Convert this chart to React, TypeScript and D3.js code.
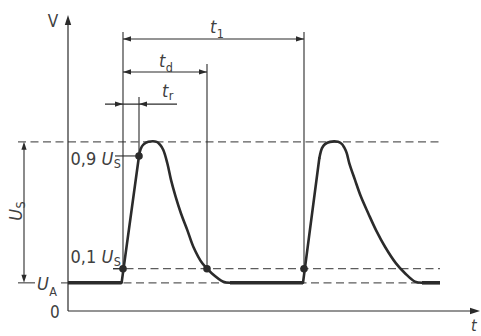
import React from 'react';
import * as d3 from 'd3';

// levels in volts (arbitrary units): U_A offset and pulse height U_S
const levelUA = 1;
const levelUS = 5;

// first pulse: straight rise, then rounded top and falling tail, [time, voltage]
const pulse1Rise: [number, number][] = [[13.4, 1], [17.75, 5.5]];
const pulse1Tail: [number, number][] = [
  [17.75, 5.5], [18.17, 5.75], [18.83, 5.9], [20.08, 6], [22.17, 6], [23, 5.9],
  [23.83, 5.71], [24.83, 5.24], [25.75, 4.65], [26.92, 4.05], [28.25, 3.46],
  [29.83, 2.87], [31.33, 2.28], [33.58, 1.69], [35.92, 1.34], [38.83, 1.04], [40.5, 1],
];

// second pulse
const pulse2Rise: [number, number][] = [[58.75, 1], [62.83, 5.42]];
const pulse2Tail: [number, number][] = [
  [62.83, 5.42], [63.5, 5.78], [64.25, 5.92], [65.5, 6], [67.5, 6], [68.5, 5.92],
  [69.05, 5.8], [69.68, 5.6], [70.33, 5.24], [71.75, 4.65], [73.25, 4.05], [75.08, 3.46],
  [77, 2.87], [79.25, 2.28], [82, 1.69], [84.25, 1.34], [86.75, 1.04], [88.5, 1],
];

// flat U_A stretches between pulses
const baseRuns: [number, number][] = [[0, 13.4], [40.5, 58.75], [88.5, 93]];

// marked points: 10% rise, 90% rise, 10% fall, next pulse 10% rise
const markTimes = [13.75, 17.75, 34.75, 59];
const markLevels = [1.5, 5.5, 1.5, 1.5];

const FONT = '"Liberation Sans Narrow", "Arial Narrow", "DejaVu Sans Condensed", "Liberation Sans", Arial, sans-serif';
const INK = '#2b2b2b';
const TEXT = '#404040';
const DASHC = '#5c5c5c';

const App = () => {
  const ref = React.useRef<SVGSVGElement>(null);

  React.useEffect(() => {
    const svg = d3.select(ref.current);
    svg.selectAll('*').remove();

    const x = d3.scaleLinear().domain([0, 103]).range([68, 480]);
    const y = d3.scaleLinear().domain([0, 10.5]).range([311, 15]);

    const top = levelUA + levelUS;
    const lvl10 = levelUA + 0.1 * levelUS;

    // filled arrowhead with tip at (tx, ty), pointing along angle (radians)
    const arrow = (tx: number, ty: number, ang: number, len = 8, hw = 2.8) => {
      const bx = tx - len * Math.cos(ang);
      const by = ty - len * Math.sin(ang);
      const px = -Math.sin(ang) * hw;
      const py = Math.cos(ang) * hw;
      svg.append('path')
        .attr('d', `M${tx},${ty}L${bx + px},${by + py}L${bx - px},${by - py}Z`)
        .attr('fill', INK);
    };

    const line = (x1: number, y1: number, x2: number, y2: number, w = 1.1, dash?: string, color = INK) => {
      const l = svg.append('line')
        .attr('x1', x1).attr('y1', y1).attr('x2', x2).attr('y2', y2)
        .attr('stroke', color).attr('stroke-width', w);
      if (dash) l.attr('stroke-dasharray', dash);
      return l;
    };

    type Part = { text: string; italic?: boolean; sub?: number };
    const label = (lx: number, ly: number, parts: Part[], size = 18, anchor = 'start', transform?: string) => {
      const t = svg.append('text')
        .attr('x', lx).attr('y', ly)
        .attr('text-anchor', anchor)
        .style('font-family', FONT)
        .style('font-size', `${size}px`)
        .style('fill', TEXT);
      if (transform) t.attr('transform', transform);
      parts.forEach(p => {
        const s = t.append('tspan').text(p.text);
        if (p.italic) s.style('font-style', 'italic');
        if (p.sub) s.attr('dy', p.sub).attr('dx', 0.5).style('font-size', '12.5px');
      });
    };

    // dashed reference levels
    const dash = '8,4.5';
    line(x(-12.5), y(top), x(93), y(top), 1.3, dash, DASHC);
    line(x(-12.5), y(levelUA), x(-8.25), y(levelUA), 1.3, undefined, DASHC);
    line(x(-1.75), y(levelUA), x(93), y(levelUA), 1.3, dash, DASHC);
    line(x(11.25), y(lvl10), x(93), y(lvl10), 1.3, dash, DASHC);
    line(x(11.25), y(lvl10), x(markTimes[0]), y(lvl10), 1.1);

    // axes
    line(x(0), y(0), x(103) - 6, y(0), 1.2);
    arrow(x(103), y(0), 0, 10, 3.2);
    line(x(0), y(0), x(0), y(10.5) + 6, 1.2);
    arrow(x(0), y(10.5), -Math.PI / 2, 10, 3.2);

    // extension lines
    line(x(markTimes[0]), y(9.9), x(markTimes[0]), y(lvl10));
    line(x(markTimes[3]), y(9.9), x(markTimes[3]), y(lvl10));
    line(x(markTimes[2]), y(8.76), x(markTimes[2]), y(lvl10));
    line(x(markTimes[1]), y(7.59), x(markTimes[1]), y(5.5));
    line(x(11.75), y(5.5), x(markTimes[1]), y(5.5));

    // t1 dimension
    line(x(markTimes[0]), y(9.65), x(markTimes[3]), y(9.65));
    arrow(x(markTimes[0]), y(9.65), Math.PI, 8, 2.6);
    arrow(x(markTimes[3]), y(9.65), 0, 8, 2.6);
    // td dimension
    line(x(markTimes[0]), y(8.48), x(markTimes[2]), y(8.48));
    arrow(x(markTimes[0]), y(8.48), Math.PI, 8, 2.6);
    arrow(x(markTimes[2]), y(8.48), 0, 8, 2.6);
    // tr dimension (arrows from outside)
    line(x(9.25), y(7.34), x(27.25), y(7.34));
    arrow(x(markTimes[0]), y(7.34), 0, 8, 2.6);
    arrow(x(markTimes[1]), y(7.34), Math.PI, 8, 2.6);

    // U_S dimension
    const dx = x(-11);
    line(dx, y(top) + 6, dx, y(levelUA) - 6);
    arrow(dx, y(top), -Math.PI / 2, 8, 2.6);
    arrow(dx, y(levelUA), Math.PI / 2, 8, 2.6);

    // waveform
    const straight = d3.line<[number, number]>().x(d => x(d[0])).y(d => y(d[1]));
    const smooth = d3.line<[number, number]>()
      .x(d => x(d[0]))
      .y(d => y(d[1]))
      .curve(d3.curveCatmullRom.alpha(0.5));
    [[pulse1Rise, straight], [pulse1Tail, smooth], [pulse2Rise, straight], [pulse2Tail, smooth]].forEach(([pts, gen]: any) => {
      svg.append('path')
        .attr('d', gen(pts))
        .attr('fill', 'none')
        .attr('stroke', INK)
        .attr('stroke-width', 2.6)
        .attr('stroke-linejoin', 'round')
        .attr('stroke-linecap', 'round');
    });
    // thicker flat baseline segments
    baseRuns.forEach(([a, b]) => {
      line(x(a), y(levelUA), x(b), y(levelUA), 3.6);
    });

    // marker dots
    markTimes.forEach((t, i) => {
      svg.append('circle')
        .attr('cx', x(t)).attr('cy', y(markLevels[i]))
        .attr('r', 3.8).attr('fill', INK);
    });

    // labels
    label(53, 27, [{ text: 'V' }], 17, 'middle');
    label(210, 33, [{ text: 't', italic: true }, { text: '1', sub: 5 }]);
    label(159, 67, [{ text: 't', italic: true }, { text: 'd', sub: 5 }]);
    label(162, 97, [{ text: 't', italic: true }, { text: 'r', sub: 3 }]);
    label(70.5, 165, [{ text: '0,9 ' }, { text: 'U', italic: true }, { text: 'S', sub: 3 }]);
    label(70.5, 263, [{ text: '0,1 ' }, { text: 'U', italic: true }, { text: 'S', sub: 3 }]);
    label(37, 290, [{ text: 'U', italic: true }, { text: 'A', sub: 6 }]);
    label(50, 318, [{ text: '0' }], 17);
    label(0, 0, [{ text: 'U', italic: true }, { text: 'S', sub: 3 }], 18, 'middle', 'translate(22,211) rotate(-90)');
    label(471, 331, [{ text: 't', italic: true }], 16);
  }, []);

  return (
    <div style={{ position: 'absolute', left: 0, top: 0, background: '#fff' }}>
      <svg ref={ref} width={481} height={336} style={{ display: 'block' }} />
    </div>
  );
};

export default App;
